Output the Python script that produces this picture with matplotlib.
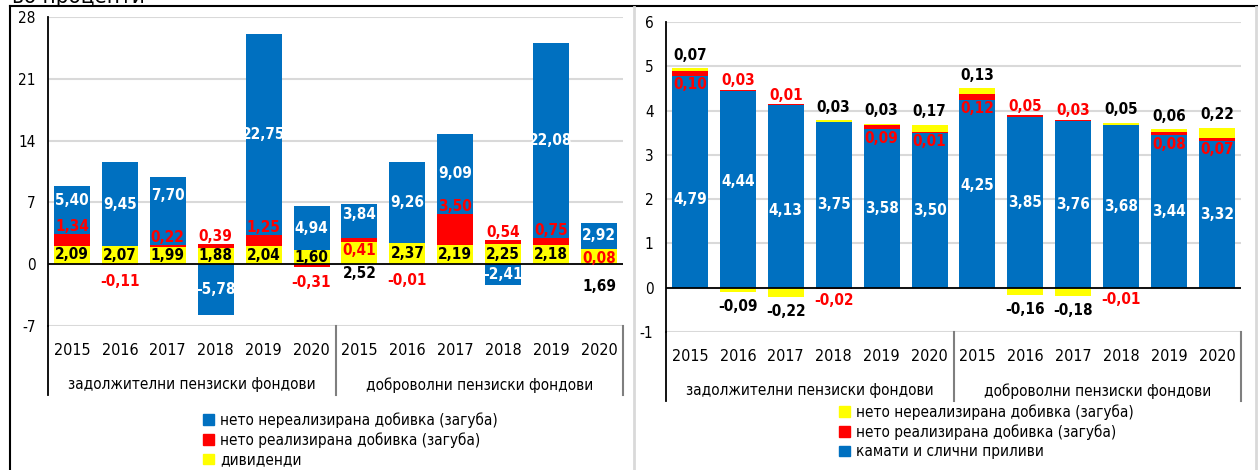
import matplotlib.pyplot as plt
from matplotlib.lines import Line2D
from matplotlib.patches import Patch

plt.rcParams['font.family'] = ['DejaVu Sans']
plt.rcParams['font.stretch'] = 'condensed'
plt.rcParams['axes.unicode_minus'] = False

years = ['2015', '2016', '2017', '2018', '2019', '2020'] * 2
groups = ['задолжителни пензиски фондови', 'доброволни пензиски фондови']

# equity portfolio: dividends, realized and unrealized gains
dividends = [2.09, 2.07, 1.99, 1.88, 2.04, 1.60, 2.52, 2.37, 2.19, 2.25, 2.18, 1.69]
realized_eq = [1.34, -0.11, 0.22, 0.39, 1.25, -0.31, 0.41, -0.01, 3.50, 0.54, 0.75, 0.08]
unrealized_eq = [5.40, 9.45, 7.70, -5.78, 22.75, 4.94, 3.84, 9.26, 9.09, -2.41, 22.08, 2.92]

# debt portfolio: interest, realized and unrealized gains
interest = [4.79, 4.44, 4.13, 3.75, 3.58, 3.50, 4.25, 3.85, 3.76, 3.68, 3.44, 3.32]
realized_debt = [0.10, 0.03, 0.01, -0.02, 0.09, 0.01, 0.12, 0.05, 0.03, -0.01, 0.08, 0.07]
unrealized_debt = [0.07, -0.09, -0.22, 0.03, 0.03, 0.17, 0.13, -0.16, -0.18, 0.05, 0.06, 0.22]

LBL_UNREAL = 'нето нереализирана добивка (загуба)'
LBL_REAL = 'нето реализирана добивка (загуба)'
LBL_DIV = 'дивиденди'
LBL_INT = 'камати и слични приливи'

BLUE, RED, YELLOW = '#0070C0', '#FF0000', '#FFFF00'
W, H = 1258, 470
N = len(years)
FS_LABEL = 11


def fmt(v):
    return f'{v:.2f}'.replace('.', ',')


def stack(ax, series, colors):
    pos = [0.0] * N
    neg = [0.0] * N
    bases = []
    for vals, c in zip(series, colors):
        bottoms = [pos[i] if v >= 0 else neg[i] for i, v in enumerate(vals)]
        ax.bar(range(N), vals, 0.75, bottom=bottoms, color=c, zorder=2)
        for i, v in enumerate(vals):
            if v >= 0:
                pos[i] += v
            else:
                neg[i] += v
        bases.append(bottoms)
    return bases


def label(ax, i, y, v, color, va='center', dy=0):
    ax.annotate(fmt(v), (i, y), xytext=(0, dy), textcoords='offset points',
                ha='center', va=va, color=color, fontsize=FS_LABEL,
                fontweight='bold', zorder=5)


def setup(ax, ylim, ticks, box):
    ax.set_xlim(-0.5, N - 0.5)
    ax.set_ylim(*ylim)
    ax.set_yticks(ticks)
    ax.grid(axis='y', color='#D9D9D9', lw=1.5)
    ax.set_axisbelow(True)
    for s in ['top', 'right', 'bottom']:
        ax.spines[s].set_visible(False)
    ax.spines['left'].set_linewidth(1.3)
    ax.axhline(0, color='black', lw=1.3, zorder=3)
    ax.set_xticks(range(N))
    ax.set_xticklabels(years, fontsize=11.5)
    ax.tick_params(axis='x', length=0, pad=12)
    ax.tick_params(axis='y', length=0, pad=9, labelsize=11)
    # category group separators and group names under the years
    h_px = box[3]
    sep = 69 / h_px
    ax.add_line(Line2D([0, 0], [0, -sep], transform=ax.transAxes,
                       color='black', lw=1.3, clip_on=False))
    for xs in (0.5, 1.0):
        ax.add_line(Line2D([xs, xs], [0, -sep], transform=ax.transAxes,
                           color='#7F7F7F', lw=1.5, clip_on=False))
    for k, g in enumerate(groups):
        ax.text(0.25 + 0.5 * k, -59 / h_px, g, transform=ax.transAxes,
                ha='center', va='center', fontsize=11)


def add_axes(fig, box):
    x0, y0, w, h = box
    return fig.add_axes([x0 / W, 1 - (y0 + h) / H, w / W, h / H])


fig = plt.figure(figsize=(W / 100, H / 100), dpi=100)

# left panel
box_l = (48, 17, 575, 309)
axl = add_axes(fig, box_l)
setup(axl, (-7, 28), range(-7, 29, 7), box_l)
div_b, real_b, unr_b = stack(axl, [dividends, realized_eq, unrealized_eq],
                             [YELLOW, RED, BLUE])
# bars where the dividend label sits under the axis
below_axis = {6: -1, 11: -11}
# blue labels lifted clear of the red label underneath (points)
lift_l = {0: 7, 2: 11, 6: 5}
for i in range(N):
    d, r, u = dividends[i], realized_eq[i], unrealized_eq[i]
    if i in below_axis:
        label(axl, i, 0, d, 'black', 'top', below_axis[i])
        label(axl, i, real_b[i], r, RED, 'top', -1)
    else:
        label(axl, i, div_b[i] + d / 2, d, 'black')
        if r < 0:
            label(axl, i, real_b[i] + r, r, RED, 'top', -6)
        else:
            label(axl, i, real_b[i] + r, r, RED, 'bottom', 0)
    label(axl, i, unr_b[i] + u / 2, u, 'white', dy=lift_l.get(i, 0))

fig.legend(handles=[Patch(color=BLUE, label=LBL_UNREAL),
                    Patch(color=RED, label=LBL_REAL),
                    Patch(color=YELLOW, label=LBL_DIV)],
           loc='upper left', bbox_to_anchor=(203 / W, 1 - 412 / H),
           frameon=False, fontsize=11, handlelength=0.7, handleheight=0.7,
           handletextpad=0.4, labelspacing=0.3, borderpad=0, borderaxespad=0)

# right panel
box_r = (666, 22, 575, 310)
axr = add_axes(fig, box_r)
setup(axr, (-1, 6), range(-1, 7), box_r)
int_b, rd_b, ud_b = stack(axr, [interest, realized_debt, unrealized_debt],
                          [BLUE, RED, YELLOW])
lift_r = {0: -13, 1: 6, 2: -10, 6: 6}
for i in range(N):
    c, r, u = interest[i], realized_debt[i], unrealized_debt[i]
    label(axr, i, c / 2, c, 'white', dy=lift_r.get(i, 0))
    if r < 0:
        label(axr, i, rd_b[i] + r, r, RED, 'top', -3)
    elif u > 0:
        label(axr, i, rd_b[i], r, RED, 'top', -1)
    else:
        label(axr, i, rd_b[i] + r, r, RED, 'bottom', 1)
    if u >= 0:
        label(axr, i, ud_b[i] + u, u, 'black', 'bottom', 4)
    else:
        label(axr, i, ud_b[i] + u, u, 'black', 'top', -5)

fig.legend(handles=[Patch(color=YELLOW, label=LBL_UNREAL),
                    Patch(color=RED, label=LBL_REAL),
                    Patch(color=BLUE, label=LBL_INT)],
           loc='upper left', bbox_to_anchor=(839 / W, 1 - 404 / H),
           frameon=False, fontsize=11, handlelength=0.7, handleheight=0.7,
           handletextpad=0.4, labelspacing=0.3, borderpad=0, borderaxespad=0)

# frame lines around the two panels
fig.add_artist(Line2D([10 / W, 1], [1 - 6 / H] * 2, transform=fig.transFigure,
                      color='black', lw=1.5))
fig.add_artist(Line2D([10 / W] * 2, [0, 1 - 6 / H], transform=fig.transFigure,
                      color='black', lw=1.5))
for xp in (634, 1256):
    fig.add_artist(Line2D([xp / W] * 2, [0, 1 - 7 / H], transform=fig.transFigure,
                          color='#D9D9D9', lw=2))
fig.text(12 / W, 1 - 3 / H, 'во проценти', fontsize=16, va='baseline')

fig.savefig('out.png', dpi=100)
